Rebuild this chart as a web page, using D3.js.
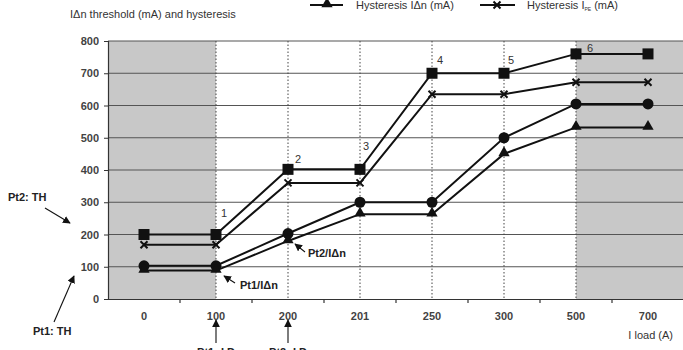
<!DOCTYPE html>
<html><head><meta charset="utf-8">
<script src="https://cdn.jsdelivr.net/npm/d3@7"></script>
<style>
body{margin:0;background:#fff;}
text{font-family:"Liberation Sans",Arial,Helvetica,sans-serif;}
</style></head>
<body><svg id="c" width="683" height="350"></svg>
<script>
const categories = ["0","100","200","201","250","300","500","700"];
const thresholdTH = [200,200,402,402,700,700,760,760];      // squares
const hysteresisPE = [168,168,360,360,635,635,672,672];     // crosses
const thresholdIdn = [103,103,203,300,300,500,605,605];     // circles
const hysteresisIdn = [88,88,180,263,263,450,532,532];      // triangles
const yTicks = [0,100,200,300,400,500,600,700,800];
const stepLabels = ["","1","2","3","4","5","6",""];
const dottedAt = ["100","200","201","250","300","500"];

const svg = d3.select("#c");
const L=108, R=684, T=41, B=299;
const x = d3.scaleBand().domain(categories).range([L,R]).padding(0);
const y = d3.scaleLinear().domain([0,800]).range([B,T]);
const cx = c => x(c)+x.bandwidth()/2;

// grey regions
svg.append("rect").attr("x",L).attr("y",T).attr("width",cx("100")-L).attr("height",B-T).attr("fill","#c8c8c8");
svg.append("rect").attr("x",cx("500")).attr("y",T).attr("width",R-cx("500")).attr("height",B-T).attr("fill","#c8c8c8");

// grid lines
svg.append("g").selectAll("line").data(yTicks.filter(d=>d>0)).join("line")
  .attr("x1",L).attr("x2",R).attr("y1",d=>y(d)).attr("y2",d=>y(d))
  .attr("stroke","#555").attr("stroke-width",1.1);

// dotted verticals
svg.append("g").selectAll("line").data(dottedAt).join("line")
  .attr("x1",d=>cx(d)).attr("x2",d=>cx(d)).attr("y1",T).attr("y2",B)
  .attr("stroke","#444").attr("stroke-width",1).attr("stroke-dasharray","1.5,2");

// axes
const yAxis = d3.axisLeft(y).tickValues(yTicks).tickSize(4).tickFormat(d3.format("d"));
const gy = svg.append("g").attr("transform",`translate(${L},0)`).call(yAxis);
gy.select(".domain").attr("stroke","#333").attr("stroke-width",1.2);
gy.selectAll(".tick line").attr("stroke","#333");
gy.selectAll(".tick text").attr("font-size",11).attr("fill","#222").attr("x",-9).attr("font-weight","bold").attr("opacity",0.85);

const xAxis = d3.axisBottom(x).tickSize(0).tickPadding(13);
const gx = svg.append("g").attr("transform",`translate(0,${B})`).call(xAxis);
gx.select(".domain").attr("stroke","#333").attr("stroke-width",1.2);
gx.selectAll(".tick text").attr("font-size",11).attr("fill","#222").attr("font-weight","bold").attr("opacity",0.85);
// band boundary ticks
svg.append("g").selectAll("line").data(categories.slice(1)).join("line")
  .attr("x1",d=>x(d)).attr("x2",d=>x(d)).attr("y1",B).attr("y2",B+4)
  .attr("stroke","#333").attr("stroke-width",1.2);

// series lines
const line = d3.line().x((d,i)=>cx(categories[i])).y(d=>y(d));
const series = [thresholdTH, hysteresisPE, thresholdIdn, hysteresisIdn];
series.forEach(s=>{
  svg.append("path").attr("d",line(s)).attr("fill","none").attr("stroke","#111").attr("stroke-width",2);
});

// markers
const g = svg.append("g");
g.selectAll(".sq").data(thresholdTH).join("rect")
  .attr("x",(d,i)=>cx(categories[i])-5.5).attr("y",d=>y(d)-5.5).attr("width",11).attr("height",11).attr("fill","#111");
g.selectAll(".ci").data(thresholdIdn).join("circle")
  .attr("cx",(d,i)=>cx(categories[i])).attr("cy",d=>y(d)).attr("r",5.5).attr("fill","#111");
const tri = d3.symbol().type(d3.symbolTriangle).size(55);
g.selectAll(".tr").data(hysteresisIdn).join("path")
  .attr("d",tri).attr("transform",(d,i)=>`translate(${cx(categories[i])},${y(d)-1})`).attr("fill","#111");
const crossPath = "M-3.5,-3.5L3.5,3.5M3.5,-3.5L-3.5,3.5";
g.selectAll(".xx").data(hysteresisPE).join("path")
  .attr("d",crossPath).attr("transform",(d,i)=>`translate(${cx(categories[i])},${y(d)})`)
  .attr("stroke","#111").attr("stroke-width",2).attr("fill","none");

// step numbers
const labelOffsets = [[0,0],[5,-18],[7,-6],[3,-19],[5,-9],[4,-9],[11,-2],[0,0]];
svg.append("g").selectAll("text").data(stepLabels).join("text")
  .attr("x",(d,i)=>cx(categories[i])+labelOffsets[i][0])
  .attr("y",(d,i)=>y(thresholdTH[i])+labelOffsets[i][1])
  .attr("font-size",11).attr("fill","#333").text(d=>d);

// titles
svg.append("text").attr("x",70).attr("y",18).attr("font-size",11).attr("fill","#333").text("IΔn threshold (mA) and hysteresis");
svg.append("text").attr("x",673).attr("y",339).attr("text-anchor","end").attr("font-size",11).attr("fill","#333").text("I load (A)");

// legend
const lg = svg.append("g");
lg.append("line").attr("x1",310).attr("x2",343).attr("y1",5).attr("y2",5).attr("stroke","#111").attr("stroke-width",2);
lg.append("path").attr("d",tri).attr("transform","translate(327,4)").attr("fill","#111");
lg.append("text").attr("x",356).attr("y",9).attr("font-size",11).attr("fill","#333").text("Hysteresis IΔn (mA)");
lg.append("line").attr("x1",480).attr("x2",515).attr("y1",5).attr("y2",5).attr("stroke","#111").attr("stroke-width",2);
lg.append("path").attr("d",crossPath).attr("transform","translate(497,5)").attr("stroke","#111").attr("stroke-width",2);
const lt = lg.append("text").attr("x",527).attr("y",9).attr("font-size",11).attr("fill","#333");
lt.append("tspan").text("Hysteresis I");
lt.append("tspan").attr("font-size",5).attr("dy",2).text("PE");
lt.append("tspan").attr("dy",-2).text(" (mA)");

// arrow marker
const defs = svg.append("defs");
defs.append("marker").attr("id","ah").attr("viewBox","0 0 10 10").attr("refX",9).attr("refY",5)
  .attr("markerWidth",7).attr("markerHeight",7).attr("orient","auto")
  .append("path").attr("d","M0,0L10,5L0,10z").attr("fill","#111");
function arrow(x1,y1,x2,y2){
  svg.append("line").attr("x1",x1).attr("y1",y1).attr("x2",x2).attr("y2",y2)
    .attr("stroke","#111").attr("stroke-width",1.1).attr("marker-end","url(#ah)");
}
function label(xp,yp,t,anchor){
  svg.append("text").attr("x",xp).attr("y",yp).attr("font-size",11).attr("font-weight","bold")
    .attr("fill","#222").attr("text-anchor",anchor||"start").text(t);
}
label(8,201,"Pt2: TH");
arrow(45,208,70,223);
label(33,335,"Pt1: TH");
arrow(54,322,74,276);
label(240,289,"Pt1/IΔn");
arrow(235,283,224,276);
label(308,257,"Pt2/IΔn");
arrow(305,252,295,244);
label(cx("100"),356,"Pt1: I.D","middle");
arrow(cx("100"),343,cx("100"),320);
label(cx("200"),356,"Pt2: I.D","middle");
arrow(cx("200"),343,cx("200"),320);
</script></body></html>
